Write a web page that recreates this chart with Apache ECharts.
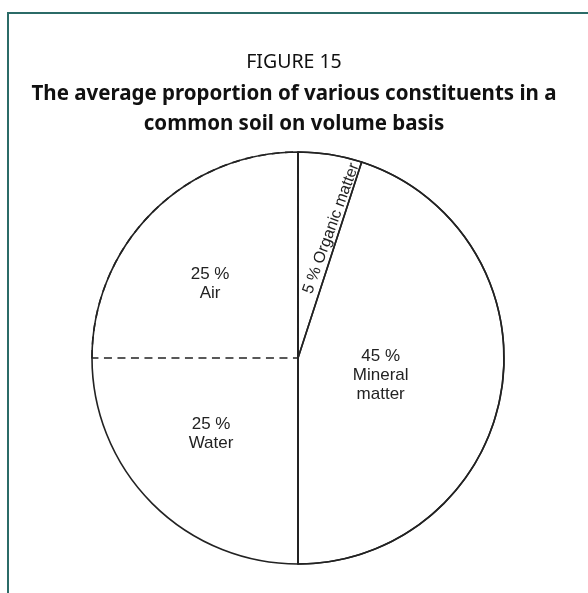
<!DOCTYPE html>
<html>
<head>
<meta charset="utf-8">
<script src="https://cdn.jsdelivr.net/npm/echarts@6/dist/echarts.min.js"></script>
<style>html,body{margin:0;padding:0;background:#fff;}#c{width:588px;height:593px;}</style>
</head>
<body>
<div id="c"></div>
<script>
const categories = ['Organic matter', 'Mineral matter', 'Water', 'Air'];
const values = [5, 45, 25, 25];
const labelTexts = ['5 % Organic matter', '45 %\nMineral\nmatter', '25 %\nWater', '25 %\nAir'];
const dashedSlice = 'Air';
const unstrokedSlice = 'Water';
const halves = [50, 50];
const figureNo = 'FIGURE 15';
const figureTitle = 'The average proportion of various constituents in a\ncommon soil on volume basis';

const labelShift = {
  'Organic matter': [29, 7],
  'Mineral matter': [-22, 1],
  'Water': [-12, 1],
  'Air': [-13, 1]
};

const chart = echarts.init(document.getElementById('c'), null, {renderer: 'canvas'});

const data = categories.map((name, i) => ({
  name: name,
  value: values[i],
  label: {
    formatter: labelTexts[i],
    rotate: name === 'Organic matter' ? 70 : 0,
    fontSize: name === 'Organic matter' ? 16 : 17
  },
  itemStyle: {
    borderType: name === dashedSlice ? [8, 5.5] : 'solid',
    borderWidth: name === unstrokedSlice ? 0 : 1.6
  }
}));

chart.setOption({
  backgroundColor: '#ffffff',
  animation: false,
  title: {
    text: figureNo,
    subtext: figureTitle,
    left: 'center',
    top: 46,
    itemGap: 6,
    textStyle: {fontFamily: 'Noto Sans', fontWeight: 'normal', fontSize: 19.5, color: '#111', lineHeight: 22},
    subtextStyle: {fontFamily: 'Noto Sans', fontWeight: 'bold', fontSize: 20.5, color: '#111', lineHeight: 30, align: 'center'}
  },
  graphic: [{
    type: 'polyline',
    shape: {points: [[8, 593], [8, 13], [588, 13]]},
    style: {stroke: '#2b6b67', lineWidth: 2, fill: null},
    silent: true
  }],
  series: [{
    type: 'pie',
    silent: true,
    center: [298, 358],
    radius: [0, 206],
    startAngle: 90,
    clockwise: true,
    emphasis: {disabled: true},
    itemStyle: {color: 'rgba(255,255,255,0)', borderColor: '#222', borderWidth: 1.6},
    label: {
      show: true,
      position: 'inside',
      fontFamily: 'Liberation Sans',
      fontSize: 17,
      lineHeight: 19,
      color: '#222'
    },
    labelLine: {show: false},
    labelLayout: function (p) {
      const s = labelShift[categories[p.dataIndex]];
      return {dx: s[0], dy: s[1]};
    },
    data: data
  }, {
    type: 'pie',
    silent: true,
    center: [298, 358],
    radius: [0, 206],
    startAngle: 90,
    emphasis: {disabled: true},
    label: {show: false},
    labelLine: {show: false},
    itemStyle: {color: 'rgba(255,255,255,0)', borderColor: '#222', borderWidth: 1.6, borderType: 'solid'},
    data: halves.map((v, i) => ({name: 'half' + i, value: v}))
  }]
});
</script>
</body>
</html>
